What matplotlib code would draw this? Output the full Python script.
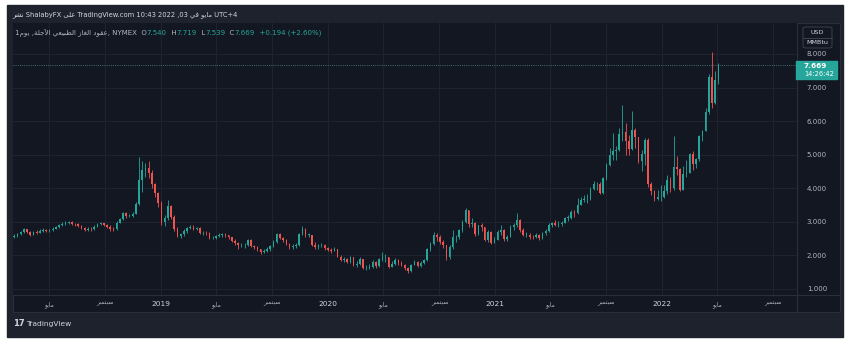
import matplotlib
matplotlib.use("Agg")
import matplotlib.pyplot as plt
import matplotlib.dates as mdates
from matplotlib.patches import Rectangle, FancyBboxPatch
import numpy as np
import pandas as pd

W, H = 854, 344

# weekly candles (NYMEX natural gas, continuous)
first_open = 2.55
close_2018 = [2.58, 2.63, 2.70, 2.78, 2.70, 2.62, 2.69, 2.68, 2.74, 2.77, 2.72, 2.77,
              2.80, 2.85, 2.90, 2.95, 2.97, 2.99, 2.95, 2.93, 2.88, 2.82, 2.75, 2.80,
              2.78, 2.86, 2.94, 2.96, 2.92, 2.86, 2.79, 2.78, 2.98, 3.08, 3.27, 3.18,
              3.18, 3.24, 3.52, 4.25, 4.55, 4.60, 4.45, 4.12, 3.85, 3.55, 3.00]
high_2018 = [2.64, 2.68, 2.74, 2.82, 2.80, 2.72, 2.73, 2.75, 2.78, 2.82, 2.80, 2.80,
             2.84, 2.89, 2.95, 2.99, 3.02, 3.03, 3.02, 2.98, 2.96, 2.90, 2.84, 2.84,
             2.84, 2.90, 2.98, 3.00, 2.98, 2.94, 2.90, 2.84, 3.02, 3.12, 3.30, 3.29,
             3.24, 3.30, 3.60, 4.93, 4.80, 4.75, 4.80, 4.55, 4.15, 3.90, 3.62]
low_2018 = [2.52, 2.56, 2.60, 2.68, 2.66, 2.58, 2.60, 2.64, 2.66, 2.70, 2.69, 2.70,
            2.74, 2.78, 2.83, 2.88, 2.90, 2.93, 2.92, 2.88, 2.84, 2.78, 2.72, 2.73,
            2.74, 2.76, 2.84, 2.90, 2.88, 2.82, 2.74, 2.74, 2.76, 2.96, 3.05, 3.12,
            3.14, 3.14, 3.22, 3.50, 3.90, 4.35, 4.30, 4.00, 3.75, 3.45, 2.92]

close_2019 = [3.10, 3.48, 3.15, 2.80, 2.58, 2.63, 2.72, 2.81, 2.86, 2.80, 2.82, 2.66,
              2.68, 2.67, 2.52, 2.52, 2.58, 2.60, 2.64, 2.60, 2.55, 2.42, 2.36, 2.30,
              2.30, 2.30, 2.45, 2.28, 2.26, 2.18, 2.10, 2.14, 2.18, 2.28, 2.40, 2.64,
              2.52, 2.46, 2.33, 2.25, 2.28, 2.30, 2.65, 2.80, 2.62, 2.62, 2.30, 2.26,
              2.30, 2.32, 2.22, 2.16]
high_2019 = [3.20, 3.65, 3.50, 3.20, 2.84, 2.68, 2.78, 2.86, 2.92, 2.90, 2.86, 2.84,
             2.74, 2.74, 2.70, 2.58, 2.62, 2.66, 2.68, 2.66, 2.62, 2.56, 2.48, 2.40,
             2.36, 2.36, 2.50, 2.48, 2.32, 2.28, 2.20, 2.20, 2.24, 2.32, 2.46, 2.68,
             2.66, 2.56, 2.50, 2.36, 2.34, 2.36, 2.68, 2.87, 2.82, 2.68, 2.62, 2.40,
             2.34, 2.38, 2.34, 2.26]
low_2019 = [2.88, 3.05, 3.08, 2.72, 2.55, 2.53, 2.58, 2.68, 2.78, 2.76, 2.76, 2.64,
            2.62, 2.60, 2.48, 2.48, 2.50, 2.54, 2.56, 2.56, 2.50, 2.40, 2.32, 2.20,
            2.24, 2.22, 2.28, 2.24, 2.20, 2.12, 2.03, 2.06, 2.10, 2.14, 2.26, 2.38,
            2.48, 2.40, 2.30, 2.18, 2.18, 2.22, 2.28, 2.62, 2.56, 2.56, 2.28, 2.20,
            2.20, 2.26, 2.16, 2.12]

close_2020 = [2.14, 2.20, 1.96, 1.86, 1.88, 1.80, 1.95, 1.70, 1.75, 1.90, 1.62, 1.62,
              1.66, 1.80, 1.68, 1.90, 1.95, 1.95, 1.66, 1.75, 1.85, 1.78, 1.70, 1.62,
              1.55, 1.70, 1.80, 1.68, 1.78, 1.85, 2.18, 2.35, 2.60, 2.55, 2.40, 2.30,
              1.95, 2.25, 2.55, 2.55, 2.75, 3.00, 3.35, 2.95, 2.98, 2.65, 2.90, 2.85,
              2.45, 2.70, 2.38, 2.46]
high_2020 = [2.22, 2.24, 2.18, 2.00, 1.95, 1.92, 1.98, 1.96, 1.84, 1.95, 1.90, 1.72,
             1.74, 1.86, 1.84, 1.92, 2.10, 2.05, 1.96, 1.84, 1.92, 1.88, 1.82, 1.74,
             1.65, 1.74, 1.86, 1.84, 1.82, 1.90, 2.22, 2.40, 2.70, 2.68, 2.62, 2.46,
             2.32, 2.30, 2.76, 2.62, 2.80, 3.05, 3.40, 3.30, 3.10, 3.00, 2.92, 2.96,
             2.82, 2.75, 2.72, 2.56]
low_2020 = [2.08, 2.12, 1.95, 1.84, 1.80, 1.76, 1.78, 1.68, 1.65, 1.72, 1.60, 1.56,
            1.60, 1.62, 1.64, 1.66, 1.84, 1.80, 1.64, 1.66, 1.72, 1.72, 1.68, 1.58,
            1.48, 1.52, 1.70, 1.66, 1.65, 1.74, 1.83, 2.12, 2.32, 2.44, 2.34, 2.22,
            1.86, 1.90, 2.18, 2.40, 2.48, 2.70, 2.98, 2.85, 2.86, 2.58, 2.62, 2.72,
            2.42, 2.40, 2.34, 2.36]

close_2021 = [2.70, 2.76, 2.48, 2.56, 2.86, 2.92, 3.07, 2.77, 2.62, 2.62, 2.55, 2.54,
              2.62, 2.52, 2.67, 2.74, 2.92, 2.96, 2.92, 2.95, 2.98, 3.12, 3.12, 3.30,
              3.25, 3.50, 3.66, 3.68, 3.68, 3.98, 4.12, 4.14, 3.85, 4.30, 4.70, 5.00,
              5.10, 5.15, 5.62, 5.68, 5.41, 5.18, 5.75, 5.52, 4.80, 5.01, 5.45, 4.13,
              3.93, 3.69, 3.73, 3.73]
high_2021 = [2.75, 2.90, 2.80, 2.62, 2.90, 2.98, 3.27, 3.08, 2.82, 2.70, 2.66, 2.60,
             2.66, 2.64, 2.70, 2.78, 2.96, 3.00, 3.05, 3.02, 3.02, 3.15, 3.20, 3.34,
             3.35, 3.70, 3.75, 3.80, 3.82, 4.05, 4.22, 4.20, 4.20, 4.35, 4.75, 5.20,
             5.65, 5.25, 5.80, 6.48, 5.95, 5.60, 6.30, 5.80, 5.30, 5.15, 5.50, 5.50,
             4.20, 3.95, 3.95, 4.10]
low_2021 = [2.45, 2.62, 2.44, 2.42, 2.55, 2.76, 2.85, 2.70, 2.58, 2.55, 2.50, 2.48,
            2.52, 2.47, 2.50, 2.62, 2.70, 2.86, 2.88, 2.86, 2.88, 2.98, 3.02, 3.08,
            3.14, 3.22, 3.50, 3.58, 3.55, 3.65, 3.95, 3.95, 3.82, 3.84, 4.24, 4.65,
            4.85, 4.84, 5.10, 5.40, 5.00, 4.99, 5.15, 5.20, 4.75, 4.50, 4.70, 4.05,
            3.80, 3.62, 3.66, 3.62]

close_2022 = [3.92, 4.26, 4.00, 4.64, 4.57, 3.94, 4.42, 4.45, 5.01, 4.73, 4.86, 5.57,
              5.72, 6.28, 7.31, 6.54, 7.24, 7.669]
high_2022 = [4.10, 4.40, 4.35, 5.55, 4.95, 4.60, 4.65, 4.85, 5.05, 5.10, 4.90, 5.60,
             5.75, 6.40, 7.40, 8.06, 7.50, 7.719]
low_2022 = [3.72, 3.82, 3.90, 3.95, 4.40, 3.92, 3.95, 4.35, 4.45, 4.55, 4.60, 4.80,
            5.40, 5.70, 6.20, 6.39, 6.50, 7.10]

price_ticks = [1, 2, 3, 4, 5, 6, 7, 8]
date_ticks = ["2018-05-01", "2018-09-01", "2019-01-01", "2019-05-01", "2019-09-01",
              "2020-01-01", "2020-05-01", "2020-09-01", "2021-01-01", "2021-05-01",
              "2021-09-01", "2022-01-01", "2022-05-01", "2022-09-01"]
last_price = 7.669
countdown = "14:26:42"

UP = "#26a69a"
DOWN = "#ef5350"
PANE = "#131722"
FRAME = "#1e222d"
BORDER = "#2a2e39"
GRIDC = "#1f2430"
TXT = "#b2b5be"

# --- tiny arabic shaper (presentation forms, visual order) ---
AR = {
    "ا": (0xFE8D, 0xFE8E, None, None), "آ": (0xFE81, 0xFE82, None, None),
    "ب": (0xFE8F, 0xFE90, 0xFE91, 0xFE92), "ة": (0xFE93, 0xFE94, None, None),
    "ت": (0xFE95, 0xFE96, 0xFE97, 0xFE98), "ج": (0xFE9D, 0xFE9E, 0xFE9F, 0xFEA0),
    "د": (0xFEA9, 0xFEAA, None, None), "ر": (0xFEAD, 0xFEAE, None, None),
    "ز": (0xFEAF, 0xFEB0, None, None), "س": (0xFEB1, 0xFEB2, 0xFEB3, 0xFEB4),
    "ش": (0xFEB5, 0xFEB6, 0xFEB7, 0xFEB8), "ط": (0xFEC1, 0xFEC2, 0xFEC3, 0xFEC4),
    "ع": (0xFEC9, 0xFECA, 0xFECB, 0xFECC), "غ": (0xFECD, 0xFECE, 0xFECF, 0xFED0),
    "ف": (0xFED1, 0xFED2, 0xFED3, 0xFED4), "ق": (0xFED5, 0xFED6, 0xFED7, 0xFED8),
    "ل": (0xFEDD, 0xFEDE, 0xFEDF, 0xFEE0), "م": (0xFEE1, 0xFEE2, 0xFEE3, 0xFEE4),
    "ن": (0xFEE5, 0xFEE6, 0xFEE7, 0xFEE8), "و": (0xFEED, 0xFEEE, None, None),
    "ى": (0xFEEF, 0xFEF0, None, None), "ي": (0xFEF1, 0xFEF2, 0xFEF3, 0xFEF4),
}
LAMALEF = {"ا": (0xFEFB, 0xFEFC), "آ": (0xFEF5, 0xFEF6)}


def shape(word):
    out = []
    i = 0
    while i < len(word):
        ch = word[i]
        prev = i > 0 and word[i - 1] in AR and AR[word[i - 1]][2] is not None
        if ch == "ل" and i + 1 < len(word) and word[i + 1] in LAMALEF:
            iso, fin = LAMALEF[word[i + 1]]
            out.append(chr(fin if prev else iso))
            i += 2
            continue
        if ch not in AR:
            out.append(ch)
            i += 1
            continue
        f = AR[ch]
        nxt = i + 1 < len(word) and word[i + 1] in AR and f[2] is not None
        if prev and nxt:
            c = f[3]
        elif prev:
            c = f[1]
        elif nxt:
            c = f[2]
        else:
            c = f[0]
        out.append(chr(c))
        i += 1
    return "".join(reversed(out))


def fx(px):
    return px / W


def fy(py):
    return 1 - py / H


closes = np.array(close_2018 + close_2019 + close_2020 + close_2021 + close_2022)
highs = np.array(high_2018 + high_2019 + high_2020 + high_2021 + high_2022)
lows = np.array(low_2018 + low_2019 + low_2020 + low_2021 + low_2022)
opens = np.concatenate([[first_open], closes[:-1]])
highs = np.maximum(highs, np.maximum(opens, closes))
lows = np.minimum(lows, np.minimum(opens, closes))
weeks = pd.date_range("2018-02-12", periods=len(closes), freq="7D")
xs = mdates.date2num(weeks + pd.Timedelta(days=2))

fig = plt.figure(figsize=(W / 100, H / 100), dpi=100, facecolor="white")
plt.rcParams["font.family"] = ["DejaVu Sans"]

# frame + pane backgrounds
fig.add_artist(Rectangle((fx(7), fy(337)), fx(836), 332 / H, color=FRAME, zorder=-10,
                         transform=fig.transFigure))
fig.add_artist(Rectangle((fx(13), fy(312)), fx(827), 289 / H, facecolor=PANE,
                         edgecolor=BORDER, lw=0.8, zorder=-9, transform=fig.transFigure))
fig.add_artist(plt.Line2D([fx(13), fx(840)], [fy(295), fy(295)], color=BORDER,
                          lw=0.8, zorder=-8, transform=fig.transFigure))
fig.add_artist(plt.Line2D([fx(797), fx(797)], [fy(23), fy(312)], color=BORDER,
                          lw=0.8, zorder=-8, transform=fig.transFigure))

ax = fig.add_axes([fx(13), fy(295), fx(784), 272 / H])
ax.set_facecolor(PANE)
for s in ax.spines.values():
    s.set_visible(False)

ref = mdates.date2num(pd.Timestamp("2019-01-01"))
ppd = 167 / 365.25
ax.set_xlim(ref + (13 - 161) / ppd, ref + (797 - 161) / ppd)
ax.set_ylim(8 - (295 - 54) / 33.57, 8 - (23 - 54) / 33.57)

up = closes >= opens
col = np.where(up, UP, DOWN)
ax.vlines(xs, lows, highs, colors=col, lw=0.6, zorder=3)
ax.bar(xs, np.maximum(np.abs(closes - opens), 0.012), bottom=np.minimum(opens, closes),
       width=3.4, color=col, lw=0, zorder=4)

ax.axhline(last_price, color="#4f8f8c", lw=0.6, ls=(0, (1, 1.6)), zorder=5)

ax.set_yticks(price_ticks)
ax.set_yticklabels([f"{v:.3f}" for v in price_ticks])
ax.yaxis.tick_right()
ax.tick_params(axis="y", length=0, pad=7, labelsize=5, labelcolor=TXT)

tick_dates = [mdates.date2num(pd.Timestamp(d)) for d in date_ticks]
labels = []
for d in date_ticks:
    t = pd.Timestamp(d)
    if t.month == 1:
        labels.append(str(t.year))
    elif t.month == 5:
        labels.append(shape("مايو"))
    else:
        labels.append(shape("سبتمبر"))
ax.set_xticks(tick_dates)
ax.set_xticklabels(labels)
ax.tick_params(axis="x", length=0, pad=4.5, labelsize=4.3, labelcolor=TXT)
for lab, d in zip(ax.get_xticklabels(), date_ticks):
    if pd.Timestamp(d).month == 1:
        lab.set_fontsize(5.3)
        lab.set_color("#d1d4dc")
ax.grid(True, color=GRIDC, lw=0.7, zorder=0)
ax.set_axisbelow(True)

# unit box
fig.add_artist(FancyBboxPatch((fx(803), fy(48)), fx(29), 21 / H,
                              boxstyle="round,pad=0,rounding_size=0.004",
                              facecolor=PANE, edgecolor="#434651", lw=0.6, zorder=10,
                              transform=fig.transFigure))
fig.add_artist(plt.Line2D([fx(803), fx(832)], [fy(37.5), fy(37.5)], color="#434651",
                          lw=0.6, zorder=11, transform=fig.transFigure))
fig.text(fx(817.5), fy(32), "USD", fontsize=4.6, color="#d1d4dc", ha="center",
         va="center", zorder=12)
fig.text(fx(817.5), fy(43), "MMBtu", fontsize=4.6, color="#d1d4dc", ha="center",
         va="center", zorder=12)

# last price label
ypix = ax.transData.transform((0, last_price))[1]
ytop = H - ypix
fig.add_artist(Rectangle((fx(796), fy(ytop + 14)), fx(41), 18 / H, color=UP, zorder=10,
                         transform=fig.transFigure))
fig.text(fx(804), fy(ytop + 0.5), f"{last_price:.3f}", fontsize=5.3, color="white",
         fontweight="bold", va="center", zorder=12)
fig.text(fx(804), fy(ytop + 9), countdown, fontsize=4.8, color="white", va="center",
         zorder=12)

# header lines
renderer = fig.canvas.get_renderer()


def run(x, y, pieces, size):
    for txt, c in pieces:
        t = fig.text(fx(x), fy(y), txt, fontsize=size, color=c, va="center")
        bb = t.get_window_extent(renderer)
        x = bb.x1


run(12, 15, [(shape("نشر") + " ShalabyFX " + shape("على") +
              " TradingView.com 10:43 2022 ,03 " + shape("في") + " " + shape("مايو") +
              " UTC+4", "#d1d4dc")], 4.9)

run(15, 33, [("1" + shape("يوم") + " ," + shape("الآجلة") + " " + shape("الطبيعي") + " " +
              shape("الغاز") + " " + shape("عقود") + ", NYMEX  O", TXT),
             ("7.540", UP), ("  H", TXT), ("7.719", UP), ("  L", TXT), ("7.539", UP),
             ("  C", TXT), ("7.669", UP), ("  +0.194 (+2.60%)", UP)], 5.0)

# logo
fig.text(fx(13), fy(324), "17", fontsize=6, fontweight="bold", color="#d1d4dc",
         va="center")
fig.text(fx(26), fy(324), "TradingView", fontsize=5.4, color="#d1d4dc", va="center")

fig.savefig("out.png", dpi=100, facecolor="white")
